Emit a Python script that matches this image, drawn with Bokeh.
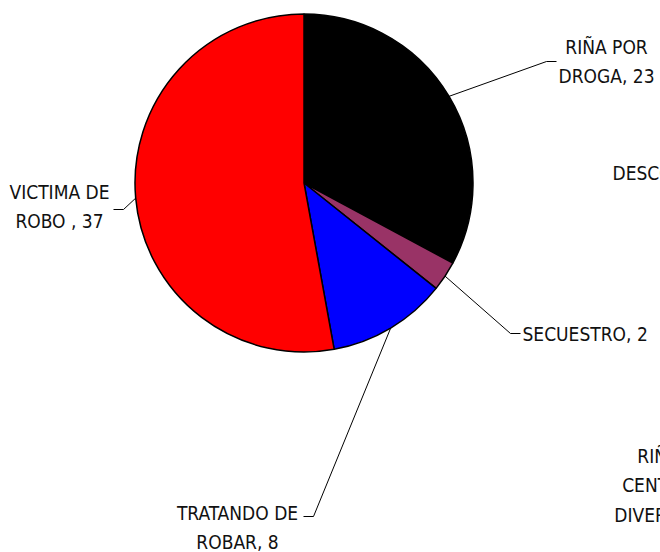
import numpy as np
from bokeh.plotting import figure
from bokeh.models import Range1d
from bokeh.core.properties import value
from bokeh.embed import file_html
from bokeh.resources import INLINE

# ---- data ----
categories = ["RIÑA POR DROGA", "SECUESTRO", "TRATANDO DE ROBAR", "VICTIMA DE ROBO",
              "DESCONOCIDO", "RIÑA EN CENTRO DE DIVERSION"]
counts = [23, 2, 8, 37, 0, 0]
label_texts = ["RIÑA POR\nDROGA, 23", "SECUESTRO, 2", "TRATANDO DE\nROBAR, 8",
               "VICTIMA DE\nROBO , 37", "DESCONOCIDO, 0", "RIÑA EN\nCENTRO DE\nDIVERSION, 0"]
colors = ["#000000", "#993366", "#0000FF", "#FF0000", "#FFFFFF", "#FFFFFF"]

# ---- layout (picture pixel coords) ----
W, H = 660, 552
cx, cy, R = 303.5, 182.5, 169.0
elbows = [(546, 61), (510, 333), (313, 516), (123, 209), None, None]
ticks = [(556, 61), (520, 333), (303, 516), (113, 209), None, None]
text_pos = [(606, 61, "center"), (522, 333, "left"), (237, 527, "center"),
            (59, 206, "center"), (612, 172, "left"), (672, 485, "center")]

def Y(py):
    return H - py

p = figure(width=W, height=H, output_backend="svg", toolbar_location=None,
           x_range=Range1d(0, W), y_range=Range1d(0, H), min_border=0)
p.axis.visible = False
p.grid.visible = False
p.outline_line_color = None
p.background_fill_color = "white"

total = float(sum(counts))
vals = np.array(counts, dtype=float)
cum_end = np.cumsum(vals) / total * 360.0
cum_start = cum_end - vals / total * 360.0

for i, v in enumerate(counts):
    if v <= 0:
        continue
    start = np.deg2rad(90 - cum_end[i])
    end = np.deg2rad(90 - cum_start[i])
    p.wedge(x=cx, y=Y(cy), radius=R, start_angle=start, end_angle=end,
            fill_color=colors[i], line_color="black", line_width=1.5)

font = value("DejaVu Sans Condensed")

for i, v in enumerate(counts):
    if elbows[i] is not None and v > 0:
        mid = np.deg2rad((cum_start[i] + cum_end[i]) / 2.0)
        ex = cx + R * np.sin(mid)
        ey = cy - R * np.cos(mid)
        xs = [ex, elbows[i][0], ticks[i][0]]
        ys = [Y(ey), Y(elbows[i][1]), Y(ticks[i][1])]
        p.line(xs, ys, line_color="black", line_width=1)
    tx, ty, al = text_pos[i]
    p.text(x=[tx], y=[Y(ty)], text=[label_texts[i]], text_font=font,
           text_font_size="19px", text_align=al, text_baseline="middle",
           text_color="#111111", text_line_height=1.35)

open("out.html", "w").write(file_html(p, INLINE))
